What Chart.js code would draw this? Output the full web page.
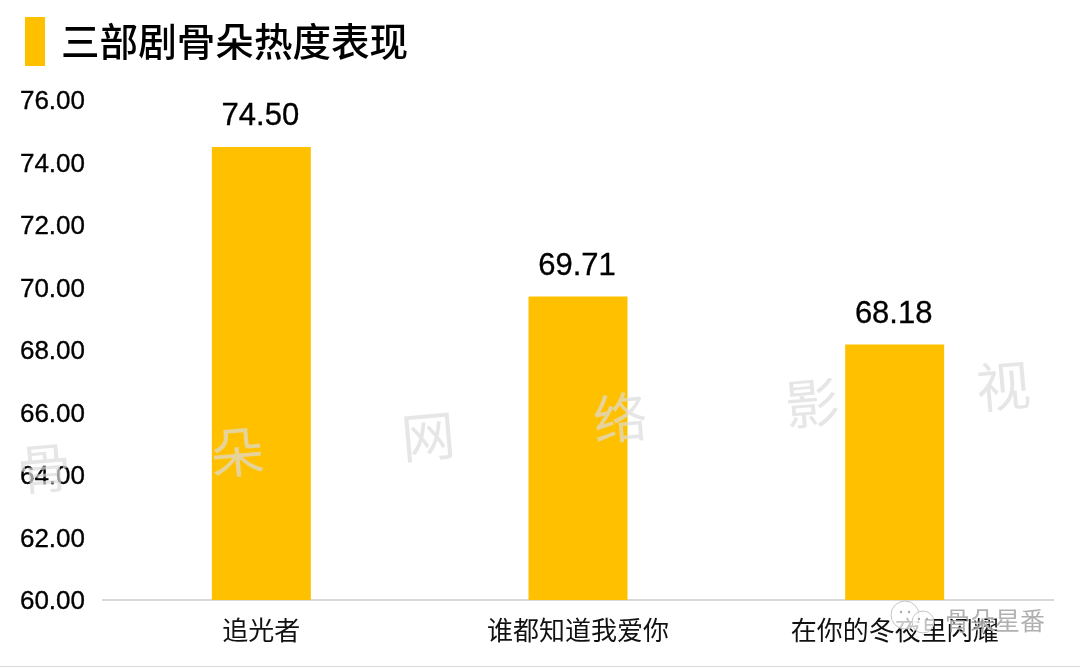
<!DOCTYPE html>
<html>
<head>
<meta charset="utf-8">
<title>三部剧骨朵热度表现</title>
<script src="https://cdn.jsdelivr.net/npm/chart.js@4/dist/chart.umd.min.js"></script>
<style>
    html, body { margin: 0; padding: 0; background: #fff; }
    canvas { display: block; }
</style>
</head>
<body>
<canvas id="heatChart" width="1080" height="667"></canvas>
<script>
const chartTitle = '三部剧骨朵热度表现';
const categories = ['追光者', '谁都知道我爱你', '在你的冬夜里闪耀'];
const heatValues = [74.50, 69.71, 68.18];
const yTickValues = [60, 62, 64, 66, 68, 70, 72, 74, 76];
const axisMin = 60;
const axisMax = 76;
const axisStep = 2;

const latinFont = '"Liberation Sans", Arial, sans-serif';
const cjkFont = '"Noto Sans CJK SC", "Liberation Sans", sans-serif';
const barColor = '#FFC000';

// slightly heavier digits, the reference text is a bit blurred and dark
function heavyText(ctx, text, x, y) {
    ctx.fillText(text, x, y);
    ctx.strokeText(text, x, y);
}

// title block, tick and value labels, watermark and the bottom rule
const decorations = {
    id: 'decorations',
    afterDatasetsDraw(chart) {
        const ctx = chart.ctx;
        ctx.save();

        ctx.fillStyle = barColor;
        ctx.fillRect(25, 17, 20, 49);
        ctx.fillStyle = '#000';
        ctx.strokeStyle = '#000';
        ctx.lineWidth = 0.35;
        ctx.font = '500 38.6px ' + cjkFont;
        ctx.textAlign = 'left';
        ctx.textBaseline = 'middle';
        ctx.fillText(chartTitle, 61, 41);

        // y labels sit about 2px under their tick
        ctx.font = '26px ' + latinFont;
        ctx.textAlign = 'right';
        yTickValues.forEach(v => {
            heavyText(ctx, v.toFixed(2), 85, chart.scales.y.getPixelForValue(v) + 2);
        });

        // value above each bar
        ctx.font = '31px ' + latinFont;
        ctx.textAlign = 'center';
        chart.getDatasetMeta(0).data.forEach((bar, i) => {
            heavyText(ctx, heatValues[i].toFixed(2), bar.x - 1, bar.y - 30);
        });

        ctx.fillStyle = '#d9d9d9';
        ctx.fillRect(0, 666, 1080, 1);

        // diagonal watermark
        const marks = [['骨', 44, 468], ['朵', 237, 452], ['网', 428, 436], ['络', 620, 418], ['影', 812, 403], ['视', 1003, 386]];
        ctx.font = '54px ' + cjkFont;
        ctx.fillStyle = 'rgba(220,220,220,0.7)';
        marks.forEach(m => {
            ctx.save();
            ctx.translate(m[1], m[2]);
            ctx.rotate(-5 * Math.PI / 180);
            ctx.fillText(m[0], 0, 0);
            ctx.restore();
        });

        // wechat account tag
        ctx.strokeStyle = '#c4c4c4';
        ctx.lineWidth = 1;
        [[905, 615, 14], [923, 622, 11]].forEach(c => {
            ctx.fillStyle = 'rgba(255,255,255,0.75)';
            ctx.beginPath();
            ctx.arc(c[0], c[1], c[2], 0, Math.PI * 2);
            ctx.fill();
            ctx.stroke();
            // eyes
            ctx.fillStyle = '#aaa';
            [-4, 4].forEach(dx => {
                ctx.beginPath();
                ctx.arc(c[0] + dx, c[1] - 3, 1.2, 0, Math.PI * 2);
                ctx.fill();
            });
        });
        ctx.font = '25px ' + cjkFont;
        ctx.fillStyle = 'rgba(255,255,255,0.7)';
        ctx.fillText('骨朵星番', 996, 621);
        ctx.fillStyle = 'rgba(150,150,150,0.75)';
        ctx.fillText('骨朵星番', 995, 620);

        ctx.restore();
    }
};

const ctx = document.getElementById('heatChart').getContext('2d');
new Chart(ctx, {
    type: 'bar',
    data: {
        labels: categories,
        datasets: [{
            data: heatValues,
            backgroundColor: barColor,
            barPercentage: 1,
            categoryPercentage: 0.3126
        }]
    },
    options: {
        responsive: false,
        animation: false,
        layout: { padding: { top: 100, right: 27, left: 0, bottom: 0 } },
        plugins: {
            legend: { display: false },
            title: { display: false },
            tooltip: { enabled: false }
        },
        scales: {
            x: {
                afterFit(scale) { scale.height = 67; },
                grid: { display: false, drawTicks: false },
                border: { color: '#d9d9d9', width: 2 },
                ticks: {
                    color: '#111',
                    padding: 15,
                    maxRotation: 0,
                    autoSkip: false,
                    font: { family: cjkFont, size: 26 }
                }
            },
            y: {
                min: axisMin,
                max: axisMax,
                afterFit(scale) { scale.width = 103; },
                grid: { display: false, drawTicks: false },
                border: { display: false },
                ticks: { display: false, stepSize: axisStep }
            }
        }
    },
    plugins: [decorations]
});
</script>
</body>
</html>
